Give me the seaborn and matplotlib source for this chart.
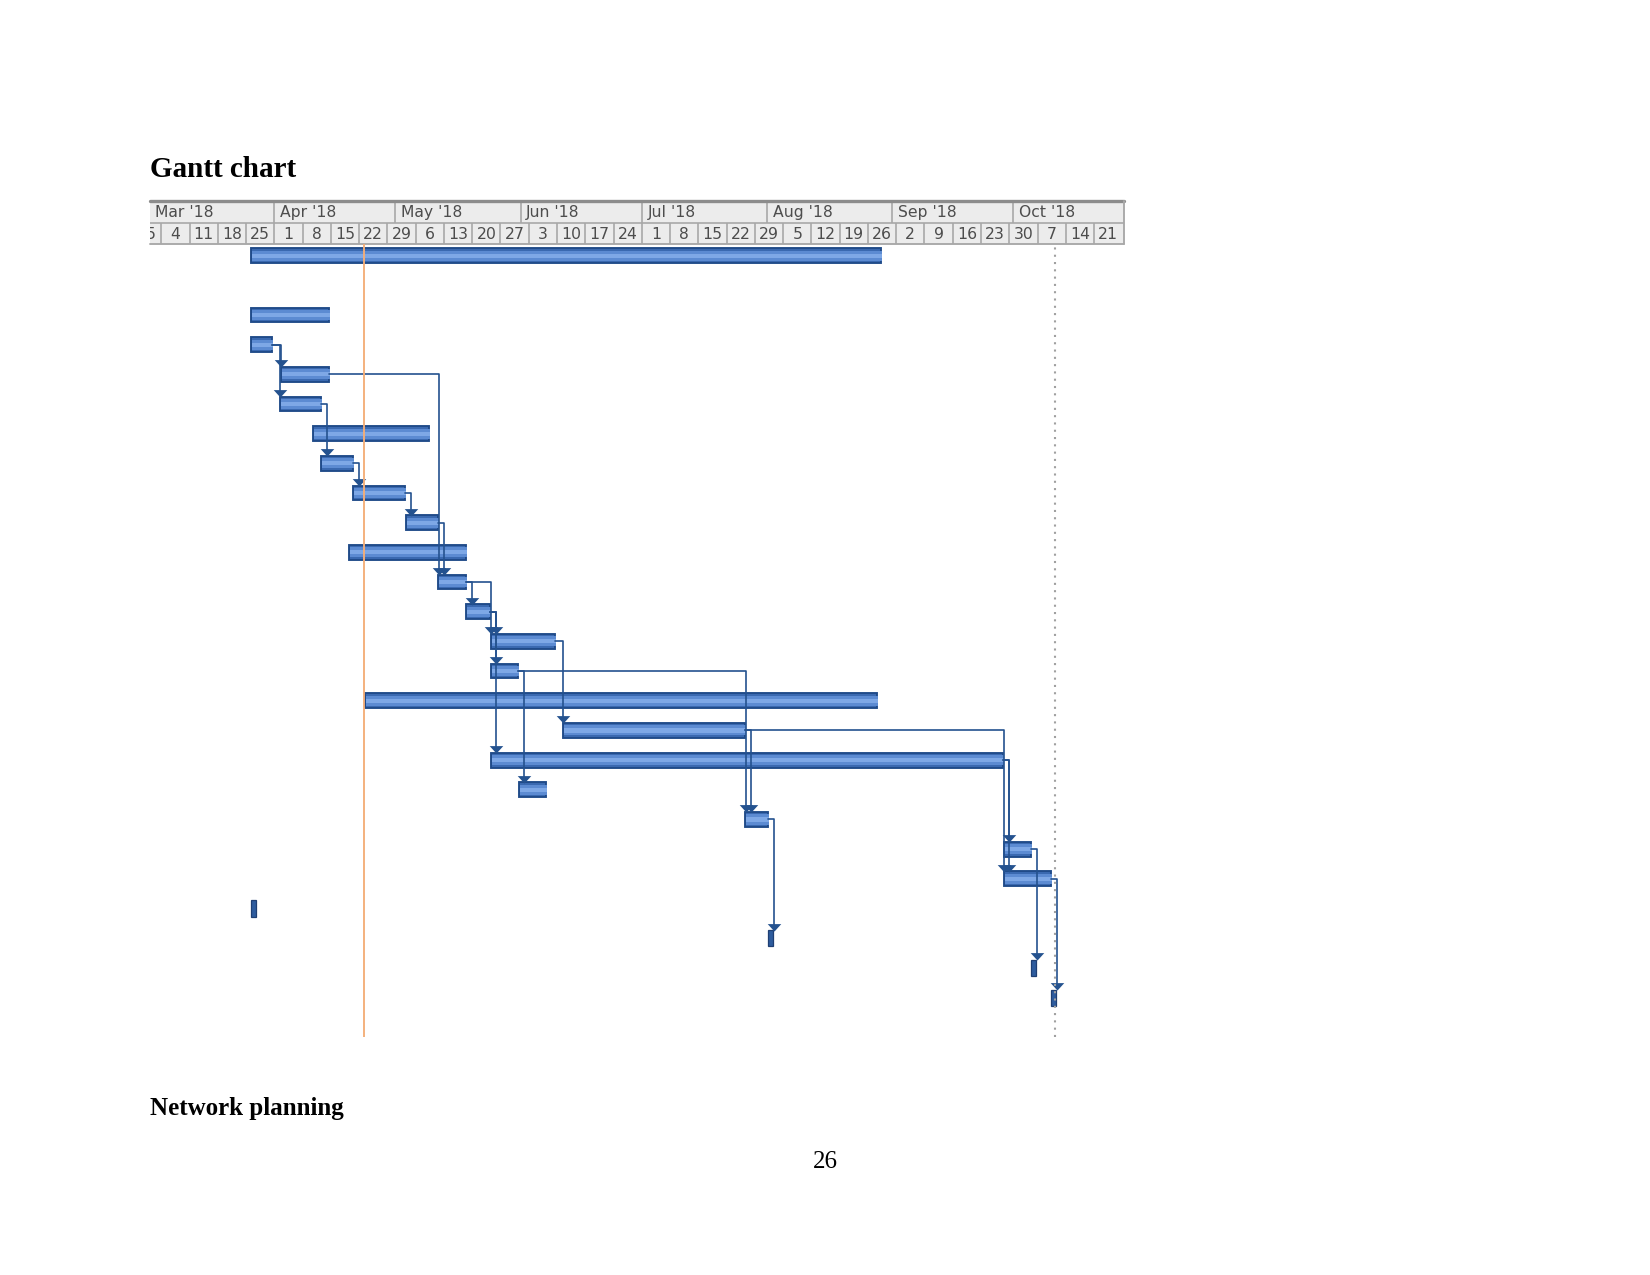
import numpy as np
import pandas as pd
import seaborn as sns
import matplotlib.pyplot as plt
import matplotlib.dates as mdates

# schedule rows (row 1 is a blank line)
task_rows = [0, 2, 3, 4, 5, 6, 7, 8, 9, 10, 11, 12, 13, 14, 15, 16, 17, 18, 19, 20, 21]
task_start = ["2018-03-26 08:00", "2018-03-26 08:00", "2018-03-26 08:00", "2018-04-02 14:00",
              "2018-04-02 10:00", "2018-04-10 12:00", "2018-04-12 14:00", "2018-04-20 14:00",
              "2018-05-03 14:00", "2018-04-19 14:00", "2018-05-11 14:00", "2018-05-18 14:00",
              "2018-05-24 14:00", "2018-05-24 14:00", "2018-04-23 12:00", "2018-06-11 10:00",
              "2018-05-24 14:00", "2018-05-31 14:00", "2018-07-26 14:00", "2018-09-28 17:00",
              "2018-09-28 17:00"]
task_finish = ["2018-08-29 05:00", "2018-04-14 10:00", "2018-03-31 12:00", "2018-04-14 12:00",
               "2018-04-12 12:00", "2018-05-09 07:00", "2018-04-20 10:00", "2018-05-03 10:00",
               "2018-05-11 14:00", "2018-05-18 10:00", "2018-05-18 10:00", "2018-05-24 10:00",
               "2018-06-09 12:00", "2018-05-31 10:00", "2018-08-28 05:00", "2018-07-26 14:00",
               "2018-09-28 12:00", "2018-06-07 07:00", "2018-08-01 07:00", "2018-10-05 10:00",
               "2018-10-10 10:00"]

milestone_rows = [22, 23, 24, 25]
milestone_dates = ["2018-03-26 08:00", "2018-08-01 07:00", "2018-10-05 10:00", "2018-10-10 10:00"]

# finish-to-start links (predecessor row, successor row)
links = [(3, 4), (3, 5), (5, 7), (7, 8), (8, 9), (4, 11), (9, 11), (11, 12), (11, 13),
         (12, 13), (12, 14), (12, 17), (13, 16), (14, 18), (14, 19), (16, 19), (16, 21),
         (17, 20), (17, 21), (19, 23), (20, 24), (21, 25)]

status_date = "2018-04-23 05:00"
project_finish = "2018-10-11 05:00"
view_start = "2018-03-01 05:00"
view_end = "2018-10-28 10:00"

month_starts = ["2018-03-01", "2018-04-01", "2018-05-01", "2018-06-01",
                "2018-07-01", "2018-08-01", "2018-09-01", "2018-10-01"]
month_labels = ["Mar '18", "Apr '18", "May '18", "Jun '18", "Jul '18", "Aug '18", "Sep '18", "Oct '18"]
week_labels = ["25", "4", "11", "18", "25", "1", "8", "15", "22", "29", "6", "13", "20", "27",
               "3", "10", "17", "24", "1", "8", "15", "22", "29", "5", "12", "19", "26",
               "2", "9", "16", "23", "30", "7", "14", "21"]


def num(dates):
    return mdates.date2num(pd.to_datetime(dates).to_numpy())


sns.set_theme(style="white")
plt.rcParams["font.family"] = ["DejaVu Sans"]

bar_dark = "#3A69B0"
bar_mid = "#5C8BD2"
bar_light = "#7EA8E6"
bar_edge = "#1F4A88"
link_color = "#24528F"
grid_c = "#A8A8A8"
text_c = "#4D4D4D"

fig = plt.figure(figsize=(11, 8.5), dpi=150)
W, H = 1650, 1275
x_left, x_right = num([view_start, view_end])

# timescale header
hx = fig.add_axes([150 / W, 1 - 244.3 / H, 974 / W, 43.3 / H])
hx.set_xlim(x_left, x_right)
hx.set_ylim(0, 2)
hx.set_facecolor("#ECECEC")
for s in hx.spines.values():
    s.set_visible(False)
hx.set_xticks([])
hx.set_yticks([])
week_x = num(pd.date_range("2018-02-25", periods=len(week_labels), freq="7D"))
month_x = num(month_starts)
hx.vlines(week_x, 0, 1, color=grid_c, lw=0.8)
hx.vlines(month_x, 1, 2, color=grid_c, lw=0.8)
hx.axhline(1, color=grid_c, lw=0.8)
hx.axhline(0, color=grid_c, lw=0.9, clip_on=False)
hx.axhline(2, color="#8C8C8C", lw=1.6, clip_on=False)
hx.axvline(x_right, color=grid_c, lw=0.9, clip_on=False)
for x, lab in zip(month_x, month_labels):
    hx.text(x + 1.4, 1.47, lab, ha="left", va="center", fontsize=7.5, color=text_c, clip_on=True)
for x, lab in zip(week_x, week_labels):
    hx.text(x + 3.5, 0.47, lab, ha="center", va="center", fontsize=7.5, color=text_c, clip_on=True)

# bars, layered to give the shaded look
ax = fig.add_axes([150 / W, 1 - 1036.7 / H, 974 / W, 792.4 / H])
df = pd.DataFrame({"row": task_rows, "start": num(task_start), "finish": num(task_finish)})
df["days"] = df["finish"] - df["start"]
left = df["start"].to_numpy()
sns.barplot(data=df, x="days", y="row", orient="y", native_scale=True, width=0.5,
            errorbar=None, saturation=1, color=bar_dark, edgecolor=bar_edge, linewidth=0.9,
            left=left, ax=ax)
sns.barplot(data=df, x="days", y="row", orient="y", native_scale=True, width=0.34,
            errorbar=None, saturation=1, color=bar_mid, linewidth=0,
            left=left + 0.25, ax=ax)
sns.barplot(data=df, x="days", y="row", orient="y", native_scale=True, width=0.14,
            errorbar=None, saturation=1, color=bar_light, linewidth=0,
            left=left + 0.25, ax=ax)

ms_x = num(milestone_dates)
ax.barh(milestone_rows, 1.1, left=ms_x, height=0.54, color="#2E5C9E", edgecolor="#1F3F73", linewidth=0.6)

span = {r: (s, f) for r, s, f in zip(df["row"], df["start"], df["finish"])}
for r, x in zip(milestone_rows, ms_x):
    span[r] = (x, x + 1.1)

arrow = [(-1, 0.5), (1, 0.5), (0, -0.6), (-1, 0.5)]
for a, b in links:
    s_a, f_a = span[a]
    s_b = span[b][0]
    xv = max(f_a + 1.5, s_b + 0.1)
    half = 0.27 if b in milestone_rows else 0.25
    ya = b - half - 0.12
    ax.plot([f_a, xv, xv], [a, a, ya], color=link_color, lw=0.8)
    ax.plot([xv], [ya], marker=arrow, ms=6.5, color=link_color, mew=0)

ax.axvline(num([status_date])[0], color="#F4AE78", lw=0.9)
ax.axvline(num([project_finish])[0], color="#A0A0A0", lw=1.0, ls=(0, (1, 2.5)))

ax.set_xlim(x_left, x_right)
ax.set_ylim(26.32, -0.38)
ax.set_xlabel("")
ax.set_ylabel("")
ax.set_axis_off()

# page text
fig.text(150 / W, 1 - 177.3 / H, "Gantt chart", fontsize=14, fontweight="bold",
         family="Liberation Serif", va="baseline", color="black")
fig.text(150 / W, 1 - 1115.5 / H, "Network planning", fontsize=12, fontweight="bold",
         family="Liberation Serif", va="baseline", color="black")
fig.text(0.5, 1 - 1168 / H, "26", fontsize=12, family="Liberation Serif", ha="center",
         va="baseline", color="black")

fig.savefig("out.png", dpi=150)
